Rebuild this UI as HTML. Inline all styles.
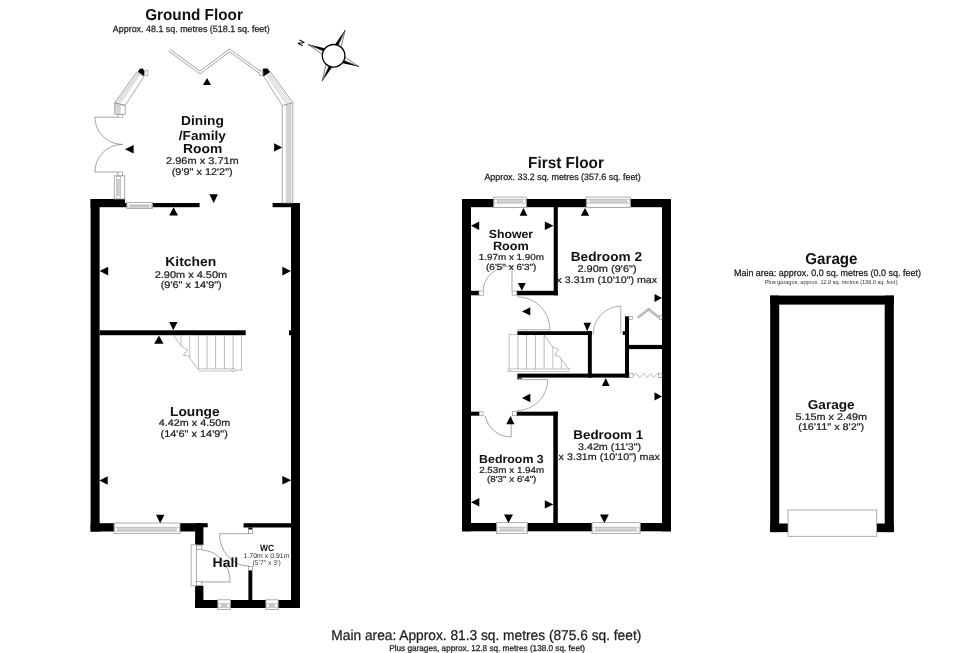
<!DOCTYPE html>
<html><head><meta charset="utf-8"><title>Floor plan</title>
<style>
html,body{margin:0;padding:0;background:#fff;}
body{width:980px;height:653px;overflow:hidden;}
svg{display:block;font-family:"Liberation Sans",sans-serif;will-change:transform;text-rendering:geometricPrecision;}
</style></head>
<body>
<svg width="980" height="653" viewBox="0 0 980 653">
<rect x="0" y="0" width="980" height="653" fill="#fff"/>
<text transform="translate(194.0,19.5) scale(1,1.04)" font-size="15.30" font-weight="bold" fill="#111" text-anchor="middle">Ground Floor</text>
<text transform="translate(191.3,31.6) scale(1,1.04)" font-size="8.92" font-weight="normal" fill="#222" stroke="#222" stroke-width="0.25" text-anchor="middle">Approx. 48.1 sq. metres (518.1 sq. feet)</text>
<rect x="90.6" y="199.0" width="9.0" height="332.6" fill="#000"/>
<rect x="90.6" y="199.0" width="34.4" height="8.2" fill="#000"/>
<rect x="125.0" y="203.0" width="74.6" height="4.2" fill="#000"/>
<rect x="272.6" y="203.0" width="27.4" height="4.2" fill="#000"/>
<rect x="291.0" y="203.0" width="9.0" height="405.0" fill="#000"/>
<rect x="99.6" y="330.3" width="146.1" height="4.9" fill="#000"/>
<rect x="289.0" y="330.3" width="2.0" height="4.9" fill="#000"/>
<rect x="90.6" y="523.2" width="104.5" height="8.3" fill="#000"/>
<rect x="195.1" y="523.2" width="12.6" height="4.1" fill="#000"/>
<rect x="195.1" y="523.2" width="8.3" height="21.6" fill="#000"/>
<rect x="195.1" y="585.8" width="8.3" height="22.2" fill="#000"/>
<rect x="195.0" y="600.0" width="105.0" height="8.0" fill="#000"/>
<rect x="243.6" y="523.2" width="56.4" height="4.3" fill="#000"/>
<rect x="248.4" y="570.2" width="3.9" height="29.8" fill="#000"/>
<rect x="126.8" y="202.5" width="25.7" height="6.0" fill="#fff" stroke="#999" stroke-width="0.8"/>
<rect x="127.6" y="204.9" width="24.1" height="2.3" fill="#fff" stroke="#aaa" stroke-width="0.6"/>
<rect x="130.4" y="205.5" width="18.5" height="1.1" fill="#e2e2e2" stroke="#aaa" stroke-width="0.5"/>
<path d="M130.4,206.0 L148.9,206.0" stroke="#b0b0b0" stroke-width="0.5" fill="none"/>
<rect x="114.1" y="523.0" width="65.9" height="10.4" fill="#fff" stroke="#999" stroke-width="0.8"/>
<rect x="114.9" y="527.2" width="64.3" height="4.0" fill="#fff" stroke="#aaa" stroke-width="0.6"/>
<rect x="117.7" y="527.8" width="58.7" height="2.8" fill="#e2e2e2" stroke="#aaa" stroke-width="0.5"/>
<path d="M117.7,529.1 L176.4,529.1" stroke="#b0b0b0" stroke-width="0.5" fill="none"/>
<rect x="217.8" y="599.8" width="12.6" height="9.8" fill="#fff" stroke="#999" stroke-width="0.8"/>
<rect x="218.6" y="603.7" width="11.0" height="3.7" fill="#fff" stroke="#aaa" stroke-width="0.6"/>
<rect x="221.4" y="604.3" width="5.4" height="2.5" fill="#e2e2e2" stroke="#aaa" stroke-width="0.5"/>
<path d="M221.4,605.6 L226.8,605.6" stroke="#b0b0b0" stroke-width="0.5" fill="none"/>
<rect x="265.9" y="599.8" width="12.3" height="9.8" fill="#fff" stroke="#999" stroke-width="0.8"/>
<rect x="266.7" y="603.7" width="10.7" height="3.7" fill="#fff" stroke="#aaa" stroke-width="0.6"/>
<rect x="269.5" y="604.3" width="5.1" height="2.5" fill="#e2e2e2" stroke="#aaa" stroke-width="0.5"/>
<path d="M269.5,605.6 L274.6,605.6" stroke="#b0b0b0" stroke-width="0.5" fill="none"/>
<rect x="114.3" y="175.8" width="10.4" height="23.2" fill="#fff" stroke="#999" stroke-width="0.8"/>
<rect x="116.6" y="176.6" width="4.0" height="21.6" fill="#fff" stroke="#aaa" stroke-width="0.6"/>
<rect x="117.2" y="179.4" width="2.8" height="16.0" fill="#e2e2e2" stroke="#aaa" stroke-width="0.5"/>
<path d="M118.6,179.4 L118.6,195.4" stroke="#b0b0b0" stroke-width="0.5" fill="none"/>
<rect x="117.9" y="172.0" width="4.5" height="3.8" fill="#fff" stroke="#888" stroke-width="0.7"/>
<rect x="191.1" y="544.8" width="5.5" height="41.0" fill="#fff" stroke="#999" stroke-width="0.8"/>
<rect x="196.6" y="545.2" width="5.2" height="4.1" fill="#fff" stroke="#888" stroke-width="0.7"/>
<rect x="196.6" y="581.6" width="5.2" height="4.0" fill="#fff" stroke="#888" stroke-width="0.7"/>
<rect x="248.4" y="527.5" width="4.0" height="2.1" fill="#000"/>
<rect x="248.4" y="529.6" width="4.0" height="4.1" fill="#fff" stroke="#888" stroke-width="0.7"/>
<rect x="248.4" y="566.4" width="4.0" height="3.8" fill="#fff" stroke="#888" stroke-width="0.7"/>
<path d="M94.9,117.2 L118,117.2 M94.9,117.2 A27.5,27.2 0 0 0 122.4,144.4" stroke="#666" stroke-width="0.6" fill="none"/>
<path d="M94.9,172 L118,172 M94.9,172 A27.5,27.6 0 0 1 122.4,144.4" stroke="#666" stroke-width="0.6" fill="none"/>
<polygon points="114.6,102.9 125.2,105.4 144.1,76.4 136.5,72.2" fill="#fff" stroke="#888" stroke-width="0.7"/>
<path d="M115.87,103.20 L137.41,72.70 M117.14,103.50 L138.32,73.21 M118.42,103.80 L139.24,73.71 M119.69,104.10 L140.15,74.22 " stroke="#aaa" stroke-width="0.5" fill="none"/>
<polygon points="115.3,103.6 120.5,104.8 120.5,113.6 115.3,113.6" fill="#e4e4e4"/>
<polygon points="114.6,102.9 125.2,105.4 125.2,114.3 114.6,114.3" fill="none" stroke="#888" stroke-width="0.7"/>
<path d="M115.87,103.20 L115.87,114.30 M117.78,103.65 L117.78,114.30 M119.90,104.15 L119.90,114.30 " stroke="#aaa" stroke-width="0.5" fill="none"/>
<rect x="118.0" y="114.3" width="4.6" height="2.9" fill="#fff" stroke="#888" stroke-width="0.6"/>
<path d="M137.8,71.7 L139.9,68.8 L142.8,68.4 L144.5,71.3 L144.1,75.9 Z" fill="#000"/>
<rect x="144.9" y="70.2" width="3.0" height="5.3" fill="#fff" stroke="#888" stroke-width="0.6"/>
<polygon points="286.3,104.3 290.9,103 290.9,203 286.3,203" fill="#e4e4e4"/>
<polygon points="282.3,105.5 292.8,102.5 292.8,203 282.3,203" fill="none" stroke="#888" stroke-width="0.7"/>
<path d="M286.29,104.36 L286.29,203.00 M287.97,103.88 L287.97,203.00 M289.86,103.34 L289.86,203.00 M290.91,103.04 L290.91,203.00 " stroke="#aaa" stroke-width="0.5" fill="none"/>
<polygon points="263,75.3 270.3,71.5 292.8,102.5 282.3,105.5" fill="#fff" stroke="#888" stroke-width="0.7"/>
<path d="M265.92,73.78 L286.50,104.30 M267.01,73.21 L288.07,103.85 M268.11,72.64 L289.65,103.40 M269.20,72.07 L291.23,102.95 " stroke="#aaa" stroke-width="0.5" fill="none"/>
<path d="M263,68.4 L267.6,68.6 L270,72 L263.4,76.5 Z" fill="#000"/>
<rect x="259.2" y="70.7" width="3.5" height="4.6" fill="#fff" stroke="#888" stroke-width="0.6"/>
<path d="M169.4,50.4 L200,72.4 L229.6,50.4 L260,72.4" stroke="#8a8a8a" stroke-width="3.0" fill="none"/>
<path d="M169.4,50.4 L200,72.4 L229.6,50.4 L260,72.4" stroke="#fff" stroke-width="1.7" fill="none"/>
<path d="M181,334.7 L181,345.5 M189.7,334.7 L189.7,357.5" stroke="#999" stroke-width="0.6" fill="none"/>
<path d="M198.4,334.7 L198.4,369" stroke="#888" stroke-width="0.6" fill="none"/>
<path d="M207.1,334.7 L207.1,369" stroke="#888" stroke-width="0.6" fill="none"/>
<path d="M215.6,334.7 L215.6,369" stroke="#888" stroke-width="0.6" fill="none"/>
<path d="M224.4,334.7 L224.4,369" stroke="#888" stroke-width="0.6" fill="none"/>
<path d="M233.1,334.7 L233.1,369" stroke="#888" stroke-width="0.6" fill="none"/>
<path d="M241.5,334.7 L241.5,370.2 L234.7,370.2" stroke="#888" stroke-width="0.6" fill="none"/>
<path d="M173.2,334.7 L181.5,346.5 L187.7,349.7 L183.4,355.2 L188.4,356 L198.4,369.7" stroke="#888" stroke-width="0.6" fill="none"/>
<path d="M198.4,368.8 L231.5,368.8 M198.4,371 L231.5,371" stroke="#999" stroke-width="0.6" fill="none"/>
<circle cx="233.1" cy="370" r="1.6" fill="#fff" stroke="#888" stroke-width="0.6"/>
<path d="M201.8,550 A29,32 0 0 1 230.2,582 L201.8,582" stroke="#666" stroke-width="0.6" fill="none"/>
<path d="M248.7,533.7 L219.5,533.7 A29.2,32.4 0 0 0 248.7,566.1" stroke="#666" stroke-width="0.6" fill="none"/>
<polygon points="209.4,194.2 218.0,194.2 213.7,202.9" fill="#000"/>
<polygon points="207.0,78.0 211.0,85.0 203.0,85.0" fill="#000"/>
<polygon points="125.0,149.2 133.6,144.9 133.6,153.6" fill="#000"/>
<polygon points="274.1,143.2 282.2,147.4 274.1,151.6" fill="#000"/>
<polygon points="173.6,207.3 178.0,215.5 169.2,215.5" fill="#000"/>
<polygon points="99.6,271.1 108.2,266.8 108.2,275.4" fill="#000"/>
<polygon points="282.3,266.8 291.0,271.1 282.3,275.4" fill="#000"/>
<polygon points="169.2,322.0 177.5,322.0 173.3,330.3" fill="#000"/>
<polygon points="158.9,335.5 163.6,343.8 154.2,343.8" fill="#000"/>
<polygon points="99.5,480.5 107.7,476.2 107.7,484.8" fill="#000"/>
<polygon points="282.3,476.0 291.3,480.3 282.3,484.6" fill="#000"/>
<polygon points="156.0,514.8 164.4,514.8 160.2,523.2" fill="#000"/>
<text transform="translate(202.5,125.2) scale(1,0.95)" font-size="13.77" font-weight="bold" fill="#111" text-anchor="middle">Dining</text>
<text transform="translate(202.3,139.5) scale(1,0.95)" font-size="13.64" font-weight="bold" fill="#111" text-anchor="middle">/Family</text>
<text transform="translate(202.7,152.9) scale(1,0.95)" font-size="13.83" font-weight="bold" fill="#111" text-anchor="middle">Room</text>
<text transform="translate(202.4,164.1) scale(1,0.89)" font-size="11.00" font-weight="normal" fill="#222" stroke="#222" stroke-width="0.25" text-anchor="middle">2.96m x 3.71m</text>
<text transform="translate(202.2,174.8) scale(1,0.89)" font-size="10.90" font-weight="normal" fill="#222" stroke="#222" stroke-width="0.25" text-anchor="middle">(9'9&quot; x 12'2&quot;)</text>
<text transform="translate(190.7,266.4) scale(1,0.95)" font-size="13.85" font-weight="bold" fill="#111" text-anchor="middle">Kitchen</text>
<text transform="translate(190.9,277.5) scale(1,0.89)" font-size="10.94" font-weight="normal" fill="#222" stroke="#222" stroke-width="0.25" text-anchor="middle">2.90m x 4.50m</text>
<text transform="translate(191.2,288.3) scale(1,0.89)" font-size="10.91" font-weight="normal" fill="#222" stroke="#222" stroke-width="0.25" text-anchor="middle">(9'6&quot; x 14'9&quot;)</text>
<text transform="translate(194.8,415.6) scale(1,0.95)" font-size="13.74" font-weight="bold" fill="#111" text-anchor="middle">Lounge</text>
<text transform="translate(194.5,426.4) scale(1,0.89)" font-size="10.80" font-weight="normal" fill="#222" stroke="#222" stroke-width="0.25" text-anchor="middle">4.42m x 4.50m</text>
<text transform="translate(194.2,436.8) scale(1,0.89)" font-size="10.94" font-weight="normal" fill="#222" stroke="#222" stroke-width="0.25" text-anchor="middle">(14'6&quot; x 14'9&quot;)</text>
<text transform="translate(225.4,566.8) scale(1,0.95)" font-size="14.00" font-weight="bold" fill="#111" text-anchor="middle">Hall</text>
<text transform="translate(267.1,550.6) scale(1,1.08)" font-size="8.43" font-weight="bold" fill="#111" text-anchor="middle">WC</text>
<text transform="translate(266.5,557.7) scale(1,1.0)" font-size="6.95" font-weight="normal" fill="#333" text-anchor="middle">1.70m x 0.91m</text>
<text transform="translate(266.6,564.6) scale(1,1.0)" font-size="6.82" font-weight="normal" fill="#333" text-anchor="middle">(5'7&quot; x 3')</text>
<polygon points="307.9,44.3 326.9,48.7 325.4,52.1" fill="#000"/>
<polygon points="307.9,44.3 323.9,55.5 325.4,52.1" fill="#fff" stroke="#000" stroke-width="0.5"/>
<polygon points="345.1,30.1 333.9,46.1 337.3,47.6" fill="#000"/>
<polygon points="345.1,30.1 340.7,49.1 337.3,47.6" fill="#fff" stroke="#000" stroke-width="0.5"/>
<polygon points="359.1,66.8 340.4,62.8 341.9,59.4" fill="#000"/>
<polygon points="359.1,66.8 343.3,56.0 341.9,59.4" fill="#fff" stroke="#000" stroke-width="0.5"/>
<polygon points="322.1,81.2 333.3,65.5 329.9,64.0" fill="#000"/>
<polygon points="322.1,81.2 326.5,62.5 329.9,64.0" fill="#fff" stroke="#000" stroke-width="0.5"/>
<circle cx="333.6" cy="55.8" r="11.3" fill="#fff" stroke="#000" stroke-width="1.3"/>
<text transform="translate(303.6,44.2) rotate(-62)" font-size="8" font-weight="bold" fill="#000" text-anchor="middle">N</text>
<text transform="translate(566.0,168.0) scale(1,1.04)" font-size="15.36" font-weight="bold" fill="#111" text-anchor="middle">First Floor</text>
<text transform="translate(562.6,180.0) scale(1,1.04)" font-size="8.88" font-weight="normal" fill="#222" stroke="#222" stroke-width="0.25" text-anchor="middle">Approx. 33.2 sq. metres (357.6 sq. feet)</text>
<rect x="462.0" y="199.0" width="209.0" height="8.2" fill="#000"/>
<rect x="462.0" y="199.0" width="9.0" height="332.3" fill="#000"/>
<rect x="662.0" y="199.0" width="9.0" height="332.3" fill="#000"/>
<rect x="462.0" y="523.0" width="209.0" height="8.3" fill="#000"/>
<rect x="553.7" y="207.0" width="4.1" height="88.3" fill="#000"/>
<rect x="471.0" y="290.8" width="8.3" height="4.5" fill="#000"/>
<rect x="516.8" y="290.8" width="41.0" height="4.5" fill="#000"/>
<rect x="517.4" y="331.2" width="74.6" height="3.8" fill="#000"/>
<rect x="587.9" y="331.2" width="3.9" height="46.4" fill="#000"/>
<rect x="517.4" y="373.6" width="111.6" height="4.0" fill="#000"/>
<rect x="625.0" y="316.3" width="4.0" height="61.3" fill="#000"/>
<rect x="622.7" y="331.2" width="2.6" height="3.7" fill="#000"/>
<rect x="629.0" y="344.9" width="33.0" height="4.2" fill="#000"/>
<rect x="471.0" y="411.7" width="8.3" height="4.0" fill="#000"/>
<rect x="516.8" y="411.7" width="41.0" height="4.0" fill="#000"/>
<rect x="553.3" y="411.7" width="4.5" height="111.3" fill="#000"/>
<rect x="493.6" y="197.1" width="32.8" height="10.2" fill="#fff" stroke="#999" stroke-width="0.8"/>
<rect x="494.4" y="199.3" width="31.2" height="3.9" fill="#fff" stroke="#aaa" stroke-width="0.6"/>
<rect x="497.2" y="199.9" width="25.6" height="2.7" fill="#e2e2e2" stroke="#aaa" stroke-width="0.5"/>
<path d="M497.2,201.3 L522.8,201.3" stroke="#b0b0b0" stroke-width="0.5" fill="none"/>
<rect x="586.3" y="197.1" width="44.3" height="10.2" fill="#fff" stroke="#999" stroke-width="0.8"/>
<rect x="587.1" y="199.3" width="42.7" height="3.9" fill="#fff" stroke="#aaa" stroke-width="0.6"/>
<rect x="589.9" y="199.9" width="37.1" height="2.7" fill="#e2e2e2" stroke="#aaa" stroke-width="0.5"/>
<path d="M589.9,201.3 L627.0,201.3" stroke="#b0b0b0" stroke-width="0.5" fill="none"/>
<rect x="496.5" y="522.7" width="30.8" height="10.9" fill="#fff" stroke="#999" stroke-width="0.8"/>
<rect x="497.3" y="527.1" width="29.2" height="4.1" fill="#fff" stroke="#aaa" stroke-width="0.6"/>
<rect x="500.1" y="527.7" width="23.6" height="2.9" fill="#e2e2e2" stroke="#aaa" stroke-width="0.5"/>
<path d="M500.1,529.1 L523.7,529.1" stroke="#b0b0b0" stroke-width="0.5" fill="none"/>
<rect x="592.0" y="522.7" width="48.2" height="10.9" fill="#fff" stroke="#999" stroke-width="0.8"/>
<rect x="592.8" y="527.1" width="46.6" height="4.1" fill="#fff" stroke="#aaa" stroke-width="0.6"/>
<rect x="595.6" y="527.7" width="41.0" height="2.9" fill="#e2e2e2" stroke="#aaa" stroke-width="0.5"/>
<path d="M595.6,529.1 L636.6,529.1" stroke="#b0b0b0" stroke-width="0.5" fill="none"/>
<rect x="479.0" y="291.0" width="4.4" height="4.2" fill="#fff" stroke="#888" stroke-width="0.6"/>
<rect x="512.1" y="291.0" width="4.7" height="4.2" fill="#fff" stroke="#888" stroke-width="0.6"/>
<rect x="479.3" y="411.7" width="3.7" height="4.0" fill="#fff" stroke="#888" stroke-width="0.6"/>
<rect x="512.3" y="411.7" width="4.5" height="4.0" fill="#fff" stroke="#888" stroke-width="0.6"/>
<rect x="629.0" y="316.3" width="3.5" height="3.3" fill="#fff" stroke="#888" stroke-width="0.6"/>
<rect x="629.2" y="373.2" width="3.9" height="4.2" fill="#fff" stroke="#888" stroke-width="0.6"/>
<rect x="658.5" y="373.2" width="3.5" height="4.2" fill="#fff" stroke="#888" stroke-width="0.6"/>
<rect x="659.1" y="315.8" width="2.9" height="3.6" fill="#fff" stroke="#888" stroke-width="0.6"/>
<path d="M483.1,290.8 A29,25 0 0 1 512,266 L512,290.8" stroke="#888" stroke-width="0.7" fill="none"/>
<path d="M517.4,296.8 A32.6,33 0 0 1 550,329.8 L517.4,329.8" stroke="#888" stroke-width="0.7" fill="none"/>
<path d="M593.1,334.5 A27.7,28.3 0 0 1 620.8,306.2 L620.8,333.8" stroke="#888" stroke-width="0.7" fill="none"/>
<path d="M517,379.6 L547.7,379.6 A30.7,31 0 0 1 517,410.6" stroke="#888" stroke-width="0.7" fill="none"/>
<rect x="517.0" y="377.6" width="5.0" height="1.1" fill="#000"/>
<path d="M485.3,415.7 A26,26 0 0 0 511.2,437 L511.2,415.7" stroke="#666" stroke-width="0.6" fill="none"/>
<path d="M633.1,375.5 L636.4,373.5 L639.6,377.6 L643.5,373.5 L647.2,377.6 L650.7,373.5 L653.9,377.6 L657.2,373.5 L658.5,374.5" stroke="#888" stroke-width="0.6" fill="none"/>
<path d="M637.7,317.6 L648.7,309.1 L659.1,317.6" stroke="#888" stroke-width="2.2" fill="none"/>
<path d="M637.7,317.6 L648.7,309.1 L659.1,317.6" stroke="#fff" stroke-width="0.9" fill="none"/>
<path d="M517.9,334.9 L517.9,369" stroke="#888" stroke-width="0.6" fill="none"/>
<path d="M526.6,334.9 L526.6,369" stroke="#888" stroke-width="0.6" fill="none"/>
<path d="M535.4,334.9 L535.4,369" stroke="#888" stroke-width="0.6" fill="none"/>
<path d="M544.1,334.9 L544.1,369" stroke="#888" stroke-width="0.6" fill="none"/>
<path d="M552.8,347 L552.8,369 M561.3,359.3 L561.3,369" stroke="#999" stroke-width="0.6" fill="none"/>
<path d="M544.1,334.9 L552.8,347 L558.3,349.6 L554.9,355.3 L558.8,356.2 L569.8,370" stroke="#888" stroke-width="0.6" fill="none"/>
<path d="M510.5,368.9 L569.8,368.9 M510.5,371.4 L569.8,371.4 M509.2,368.5 L509.2,334.6 L517.4,334.6" stroke="#999" stroke-width="0.6" fill="none"/>
<circle cx="509.2" cy="370.1" r="1.5" fill="#fff" stroke="#888" stroke-width="0.6"/>
<polygon points="523.5,207.9 527.4,215.7 519.6,215.7" fill="#000"/>
<polygon points="585.0,207.9 589.2,215.7 580.8,215.7" fill="#000"/>
<polygon points="471.0,225.8 479.2,221.5 479.2,230.0" fill="#000"/>
<polygon points="544.8,221.5 553.5,225.8 544.8,230.0" fill="#000"/>
<polygon points="517.9,282.9 525.8,282.9 521.8,290.8" fill="#000"/>
<polygon points="654.5,294.0 662.0,298.0 654.5,302.0" fill="#000"/>
<polygon points="522.0,311.4 530.3,307.2 530.3,315.6" fill="#000"/>
<polygon points="583.5,322.7 591.0,322.7 587.2,331.2" fill="#000"/>
<polygon points="605.8,378.0 609.6,386.0 601.9,386.0" fill="#000"/>
<polygon points="654.5,392.3 662.0,396.4 654.5,400.5" fill="#000"/>
<polygon points="522.0,398.0 530.3,393.8 530.3,402.2" fill="#000"/>
<polygon points="510.4,416.2 514.5,424.3 506.2,424.3" fill="#000"/>
<polygon points="471.0,502.2 479.3,498.0 479.3,506.5" fill="#000"/>
<polygon points="544.8,500.2 553.3,504.4 544.8,508.6" fill="#000"/>
<polygon points="504.0,514.6 513.0,514.6 508.5,523.0" fill="#000"/>
<polygon points="600.0,514.6 608.8,514.6 604.4,523.0" fill="#000"/>
<text transform="translate(510.9,237.6) scale(1,0.95)" font-size="12.30" font-weight="bold" fill="#111" text-anchor="middle">Shower</text>
<text transform="translate(510.9,249.5) scale(1,0.95)" font-size="12.68" font-weight="bold" fill="#111" text-anchor="middle">Room</text>
<text transform="translate(511.4,260.2) scale(1,0.89)" font-size="9.87" font-weight="normal" fill="#222" stroke="#222" stroke-width="0.25" text-anchor="middle">1.97m x 1.90m</text>
<text transform="translate(511.2,269.5) scale(1,0.89)" font-size="10.00" font-weight="normal" fill="#222" stroke="#222" stroke-width="0.25" text-anchor="middle">(6'5&quot; x 6'3&quot;)</text>
<text transform="translate(606.4,261.4) scale(1,0.95)" font-size="13.68" font-weight="bold" fill="#111" text-anchor="middle">Bedroom 2</text>
<text transform="translate(607.0,272.0) scale(1,0.89)" font-size="11.00" font-weight="normal" fill="#222" stroke="#222" stroke-width="0.25" text-anchor="middle">2.90m (9'6&quot;)</text>
<text transform="translate(606.8,283.2) scale(1,0.89)" font-size="10.65" font-weight="normal" fill="#222" stroke="#222" stroke-width="0.25" text-anchor="middle">x 3.31m (10'10&quot;) max</text>
<text transform="translate(511.4,462.5) scale(1,0.95)" font-size="12.36" font-weight="bold" fill="#111" text-anchor="middle">Bedroom 3</text>
<text transform="translate(511.7,473.0) scale(1,0.89)" font-size="9.85" font-weight="normal" fill="#222" stroke="#222" stroke-width="0.25" text-anchor="middle">2.53m x 1.94m</text>
<text transform="translate(511.7,482.1) scale(1,0.89)" font-size="9.81" font-weight="normal" fill="#222" stroke="#222" stroke-width="0.25" text-anchor="middle">(8'3&quot; x 6'4&quot;)</text>
<text transform="translate(608.2,439.3) scale(1,0.95)" font-size="13.36" font-weight="bold" fill="#111" text-anchor="middle">Bedroom 1</text>
<text transform="translate(609.5,449.9) scale(1,0.89)" font-size="10.79" font-weight="normal" fill="#222" stroke="#222" stroke-width="0.25" text-anchor="middle">3.42m (11'3&quot;)</text>
<text transform="translate(609.2,460.3) scale(1,0.89)" font-size="10.73" font-weight="normal" fill="#222" stroke="#222" stroke-width="0.25" text-anchor="middle">x 3.31m (10'10&quot;) max</text>
<text transform="translate(831.4,263.8) scale(1,1.04)" font-size="15.13" font-weight="bold" fill="#111" text-anchor="middle">Garage</text>
<text transform="translate(827.4,276.0) scale(1,1.04)" font-size="8.97" font-weight="normal" fill="#222" stroke="#222" stroke-width="0.25" text-anchor="middle">Main area: approx. 0.0 sq. metres (0.0 sq. feet)</text>
<text transform="translate(831.2,283.6) scale(1,1.04)" font-size="5.56" font-weight="normal" fill="#333" text-anchor="middle">Plus garages, approx. 12.8 sq. metres (138.0 sq. feet)</text>
<rect x="770.2" y="295.6" width="123.6" height="9.0" fill="#000"/>
<rect x="770.2" y="295.6" width="9.0" height="236.5" fill="#000"/>
<rect x="884.7" y="295.6" width="9.1" height="236.5" fill="#000"/>
<rect x="770.2" y="523.5" width="123.6" height="8.6" fill="#000"/>
<rect x="788.0" y="510.0" width="88.7" height="26.3" fill="#fff" stroke="#999" stroke-width="0.8"/>
<text transform="translate(831.2,408.5) scale(1,0.95)" font-size="13.62" font-weight="bold" fill="#111" text-anchor="middle">Garage</text>
<text transform="translate(831.2,419.9) scale(1,0.89)" font-size="10.82" font-weight="normal" fill="#222" stroke="#222" stroke-width="0.25" text-anchor="middle">5.15m x 2.49m</text>
<text transform="translate(831.2,430.4) scale(1,0.89)" font-size="10.87" font-weight="normal" fill="#222" stroke="#222" stroke-width="0.25" text-anchor="middle">(16'11&quot; x 8'2&quot;)</text>
<text transform="translate(486.3,639.6) scale(1,1.04)" font-size="13.74" font-weight="normal" fill="#222" stroke="#222" stroke-width="0.25" text-anchor="middle">Main area: Approx. 81.3 sq. metres (875.6 sq. feet)</text>
<text transform="translate(487.1,650.9) scale(1,1.04)" font-size="8.20" font-weight="normal" fill="#222" stroke="#222" stroke-width="0.25" text-anchor="middle">Plus garages, approx. 12.8 sq. metres (138.0 sq. feet)</text>
</svg>
</body></html>
